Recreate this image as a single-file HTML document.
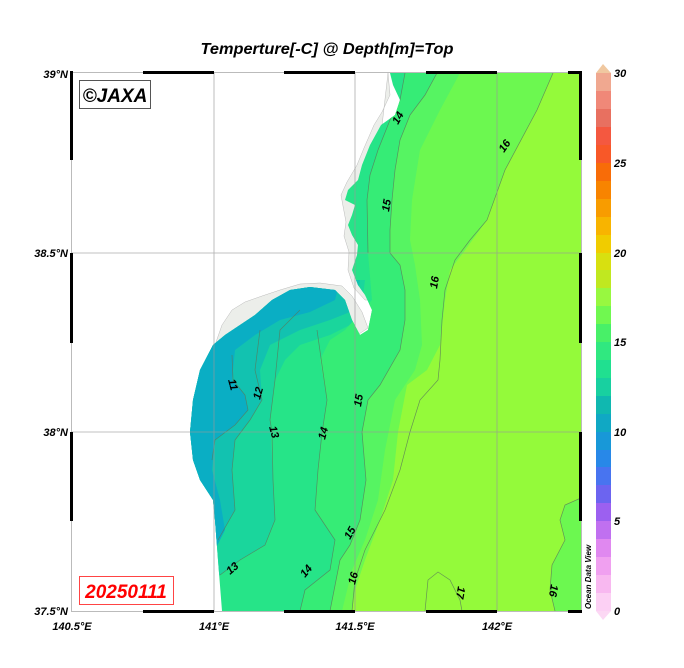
<!DOCTYPE html>
<html><head><meta charset="utf-8"><style>
html,body{margin:0;padding:0;background:#fff;width:684px;height:668px;overflow:hidden}
text{font-family:"Liberation Sans",Arial,sans-serif;font-weight:bold;font-style:italic}
</style></head><body>
<svg width="684" height="668" viewBox="0 0 684 668" xmlns="http://www.w3.org/2000/svg">
<defs>
<clipPath id="oc"><path d="M390,73 L581,73 L581,611 L222,611 L218,560 L215,520 L213,500 L200,480 L193,460 L190,432 L193,400 L200,370 L213,345 L225,335 L240,325 L255,315 L272,300 L290,290 L310,287 L335,290 L345,300 L352,320 L360,335 L368,330 L372,310 L365,295 L358,285 L352,270 L357,255 L358,245 L352,235 L348,225 L352,215 L355,205 L345,200 L348,190 L358,180 L362,165 L370,145 L381,125 L395,115 L400,100 L393,85 Z"/></clipPath>
</defs>
<text x="327" y="54" font-size="16" text-anchor="middle" textLength="253" lengthAdjust="spacingAndGlyphs">Temperture[-C] @ Depth[m]=Top</text>
<path d="M215,345 L222,325 L232,310 L245,302 L262,296 L280,290 L300,284 L320,283 L342,286 L352,296 L362,312 L368,328 L350,340 Z" fill="#eceeea" stroke="#bbb" stroke-width="0.5"/>
<path d="M388,73 L390,95 L382,112 L374,125 L364,148 L357,165 L347,182 L341,195 L343,206 L346,222 L344,236 L349,252 L348,270 L354,288 L365,300 L372,300 L365,275 Z" fill="#eceeea" stroke="#bbb" stroke-width="0.5"/>
<g clip-path="url(#oc)">
<rect x="150" y="60" width="450" height="560" fill="#26e488"/>
<path d="M150,280 L365,280 L360,320 L330,335 L300,345 L285,360 L275,380 L270,420 L273,480 L275,520 L265,545 L240,560 L220,575 L150,611 Z" fill="#1ad69c"/>
<path d="M150,280 L360,280 L355,310 L330,320 L300,330 L270,345 L260,370 L262,400 L250,420 L235,440 L232,470 L235,510 L218,540 L150,611 Z" fill="#12c2b0"/>
<path d="M150,280 L340,280 L335,300 L310,312 L280,320 L255,335 L235,350 L232,380 L245,395 L248,410 L235,425 L215,440 L212,470 L220,500 L225,530 L210,560 L150,600 Z" fill="#0aaec4"/>
<path d="M405,73 L400,100 L390,120 L378,150 L370,175 L367,200 L368,253 L372,300 L345,330 L330,340 L320,360 L327,400 L322,433 L318,470 L315,510 L325,525 L335,540 L330,570 L305,590 L300,611 L600,611 L600,60 Z" fill="#36ec76"/>
<path d="M437,73 L425,95 L410,115 L400,140 L395,170 L392,200 L390,230 L390,253 L400,265 L405,290 L405,320 L400,350 L380,385 L368,400 L362,432 L366,480 L360,520 L350,545 L340,560 L330,611 L600,611 L600,60 Z" fill="#56f462"/>
<path d="M460,73 L440,110 L420,150 L412,200 L410,240 L415,265 L420,300 L422,345 L415,370 L395,400 L385,450 L378,500 L365,540 L352,570 L342,611 L600,611 L600,60 Z" fill="#6cf850"/>
<path d="M553,73 L537,110 L505,170 L487,220 L463,253 L450,270 L445,300 L440,345 L427,370 L407,385 L398,432 L393,480 L380,520 L365,560 L355,590 L352,611 L600,611 L600,60 Z" fill="#94fa3a"/>
<path d="M581,498 L565,505 L560,520 L565,540 L552,565 L550,590 L555,611 L581,611 Z" fill="#6cf850"/>
<g fill="none" stroke="#5a7a5a" stroke-width="0.7" opacity="0.8">
<path d="M232,355 L233,380 L245,395 L248,410 L235,425 L215,440 L212,460"/>
<path d="M260,330 L255,370 L262,400 L250,420 L235,440 L232,470 L235,510 L218,540"/>
<path d="M300,310 L280,330 L275,380 L270,420 L272,432 L273,480 L275,520 L265,545 L240,560 L220,575"/>
<path d="M317,330 L327,400 L322,433 L318,470 L315,510 L325,525 L335,540 L330,570 L305,590 L300,611"/>
<path d="M405,73 L400,100 L390,120 L378,150 L370,175 L367,200 L368,253"/>
<path d="M437,73 L425,95 L410,115 L400,140 L395,170 L392,200 L390,230 L390,253 L400,265 L405,290 L405,320 L400,350 L380,385 L368,400 L362,432 L366,480 L360,520 L350,545 L340,560 L330,611"/>
<path d="M553,73 L537,110 L505,170 L487,220 L470,240 L455,260 L445,290 L442,320 L440,360 L438,380 L420,400 L410,432 L400,470 L385,510 L365,550 L355,580 L352,611"/>
<path d="M425,611 L428,580 L438,572 L450,580 L460,600 L462,611"/>
<path d="M581,498 L565,505 L560,520 L565,540 L552,565 L550,590 L555,611"/>
</g>
</g>
<g stroke="#999" stroke-width="0.8" opacity="0.8">
<line x1="214" y1="73" x2="214" y2="611"/><line x1="355" y1="73" x2="355" y2="611"/><line x1="497" y1="73" x2="497" y2="611"/>
<line x1="72" y1="253" x2="581" y2="253"/><line x1="72" y1="432" x2="581" y2="432"/>
</g>
<rect x="71.5" y="72.5" width="510" height="539" fill="none" stroke="#bbb" stroke-width="1"/>
<g fill="#000">
<rect x="70" y="71" width="3" height="89"/><rect x="70" y="253" width="3" height="90"/><rect x="70" y="432" width="3" height="89"/>
<rect x="579" y="71" width="3" height="89"/><rect x="579" y="253" width="3" height="90"/><rect x="579" y="432" width="3" height="89"/>
<rect x="143" y="71" width="71" height="3"/><rect x="284" y="71" width="71" height="3"/><rect x="426" y="71" width="71" height="3"/><rect x="568" y="71" width="14" height="3"/>
<rect x="143" y="610" width="71" height="3"/><rect x="284" y="610" width="71" height="3"/><rect x="426" y="610" width="71" height="3"/><rect x="568" y="610" width="14" height="3"/>
</g>
<g font-size="11" font-style="normal" fill="#000">
<text transform="translate(228,380) rotate(75)">11</text>
<text transform="translate(260,400) rotate(-75)">12</text>
<text transform="translate(269,427) rotate(75)">13</text>
<text transform="translate(325,440) rotate(-75)">14</text>
<text transform="translate(361,407) rotate(-80)">15</text>
<text transform="translate(389,212) rotate(-80)">15</text>
<text transform="translate(398,125) rotate(-60)">14</text>
<text transform="translate(504,153) rotate(-55)">16</text>
<text transform="translate(437,289) rotate(-80)">16</text>
<text transform="translate(350,540) rotate(-60)">15</text>
<text transform="translate(355,585) rotate(-75)">16</text>
<text transform="translate(305,578) rotate(-50)">14</text>
<text transform="translate(230,575) rotate(-40)">13</text>
<text transform="translate(458,586) rotate(100)">17</text>
<text transform="translate(551,584) rotate(100)">16</text>
</g>
<g font-size="11" text-anchor="end">
<text x="68" y="78">39°N</text><text x="68" y="257">38.5°N</text><text x="68" y="436">38°N</text><text x="68" y="615">37.5°N</text>
</g>
<g font-size="11" text-anchor="middle">
<text x="72" y="630">140.5°E</text><text x="214" y="630">141°E</text><text x="355" y="630">141.5°E</text><text x="497" y="630">142°E</text>
</g>
<rect x="79.5" y="80.5" width="71" height="28" fill="#fff" stroke="#555" stroke-width="1"/>
<text x="115" y="102" font-size="19" text-anchor="middle">©JAXA</text>
<rect x="79.5" y="576.5" width="94" height="28" fill="#fff" stroke="#f44" stroke-width="1"/>
<text x="126" y="598" font-size="19" text-anchor="middle" fill="#f00" font-weight="normal">20250111</text>
<text transform="translate(591,609) rotate(-90)" font-size="8" font-style="normal">Ocean Data View</text>
<polygon points="596,73 603,64 611,73" fill="#f0c8a0"/>
<polygon points="596,611 603,620 611,611" fill="#fcd8f4"/>
<g>
<rect x="596" y="593" width="15" height="18" fill="#fcd0f4"/>
<rect x="596" y="575" width="15" height="18" fill="#f8b8f0"/>
<rect x="596" y="557" width="15" height="18" fill="#f0a0f0"/>
<rect x="596" y="539" width="15" height="18" fill="#e088f0"/>
<rect x="596" y="521" width="15" height="18" fill="#c070f0"/>
<rect x="596" y="503" width="15" height="18" fill="#9c60f0"/>
<rect x="596" y="485" width="15" height="18" fill="#6c64f0"/>
<rect x="596" y="467" width="15" height="18" fill="#4874f0"/>
<rect x="596" y="450" width="15" height="17" fill="#2888e8"/>
<rect x="596" y="432" width="15" height="18" fill="#1898d8"/>
<rect x="596" y="414" width="15" height="18" fill="#10a8c4"/>
<rect x="596" y="396" width="15" height="18" fill="#10b8b0"/>
<rect x="596" y="378" width="15" height="18" fill="#18d0a0"/>
<rect x="596" y="360" width="15" height="18" fill="#20e090"/>
<rect x="596" y="342" width="15" height="18" fill="#30e880"/>
<rect x="596" y="324" width="15" height="18" fill="#48f068"/>
<rect x="596" y="306" width="15" height="18" fill="#70f850"/>
<rect x="596" y="288" width="15" height="18" fill="#98f840"/>
<rect x="596" y="270" width="15" height="18" fill="#c0e820"/>
<rect x="596" y="253" width="15" height="17" fill="#d8e010"/>
<rect x="596" y="235" width="15" height="18" fill="#f0cc00"/>
<rect x="596" y="217" width="15" height="18" fill="#f8b400"/>
<rect x="596" y="199" width="15" height="18" fill="#f89c00"/>
<rect x="596" y="181" width="15" height="18" fill="#f88400"/>
<rect x="596" y="163" width="15" height="18" fill="#f86c08"/>
<rect x="596" y="145" width="15" height="18" fill="#f85828"/>
<rect x="596" y="127" width="15" height="18" fill="#f45840"/>
<rect x="596" y="109" width="15" height="18" fill="#e87060"/>
<rect x="596" y="91" width="15" height="18" fill="#f08878"/>
<rect x="596" y="73" width="15" height="18" fill="#f0a890"/>
</g>
<g font-size="11">
<text x="614" y="77">30</text><text x="614" y="167">25</text><text x="614" y="257">20</text><text x="614" y="346">15</text><text x="614" y="436">10</text><text x="614" y="525">5</text><text x="614" y="615">0</text>
</g>
</svg>
</body></html>
